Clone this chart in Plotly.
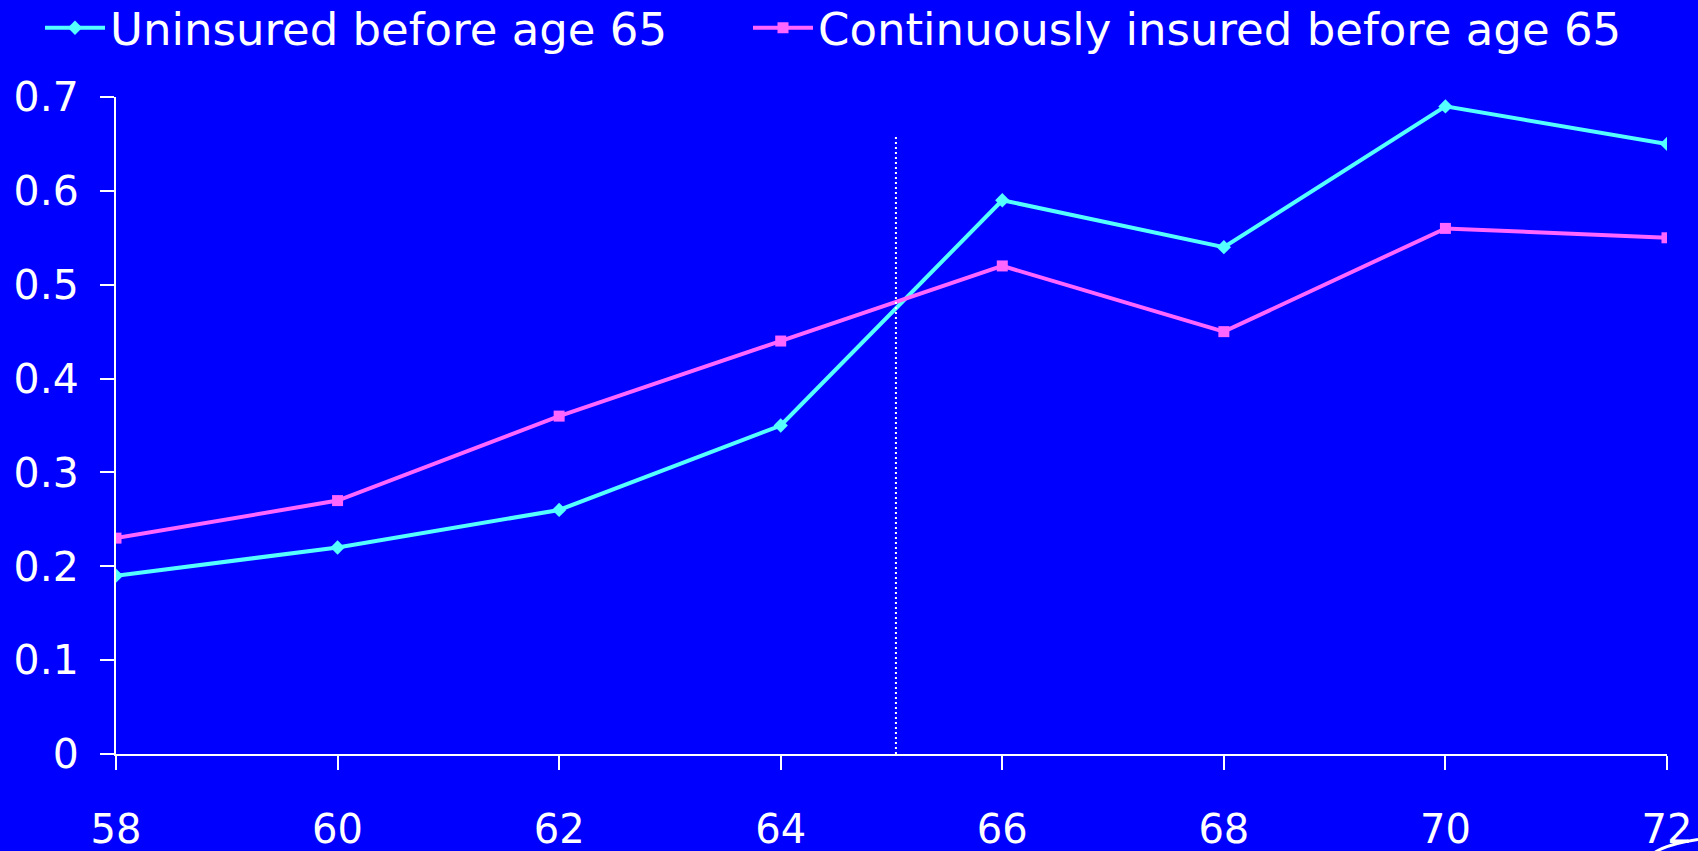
import plotly.graph_objects as go

# ages on the x axis
ages = [58, 60, 62, 64, 66, 68, 70, 72]

# share of respondents
uninsured = [0.19, 0.22, 0.26, 0.35, 0.59, 0.54, 0.69, 0.65]
insured = [0.23, 0.27, 0.36, 0.44, 0.52, 0.45, 0.56, 0.55]

# age 65 marker line
cutoff_age = 65.04
cutoff_top = 0.66

BG = '#0000FF'
CYAN = '#55FFFF'
PINK = '#FF66FF'
TICK_FONT = dict(family='DejaVu Sans', size=40, color='white')
LEG_FONT = dict(family='DejaVu Sans', size=45, color='white')

fig = go.Figure()

fig.add_trace(go.Scatter(x=ages, y=uninsured, name='Uninsured before age 65',
                         mode='lines+markers', legend='legend',
                         line=dict(color=CYAN, width=4),
                         marker=dict(symbol='diamond', size=11, color=CYAN)))

fig.add_trace(go.Scatter(x=ages, y=insured, name='Continuously insured before age 65',
                         mode='lines+markers', legend='legend2',
                         line=dict(color=PINK, width=4),
                         marker=dict(symbol='square', size=11, color=PINK)))

# dotted line at 65
fig.add_shape(type='line', x0=cutoff_age, x1=cutoff_age, y0=0, y1=cutoff_top,
              xref='x', yref='y',
              line=dict(color='white', width=2, dash='2px,3px'))

# stray white stroke in the bottom right corner of the slide
fig.add_shape(type='path', xref='paper', yref='paper', layer='above',
              path='M 0.992,-0.150 Q 1.0,-0.137 1.02,-0.130',
              line=dict(color='white', width=3))

leg_common = dict(orientation='h', xref='container', yref='container',
                  xanchor='left', yanchor='middle', y=1 - 28 / 851,
                  font=LEG_FONT, bgcolor='rgba(0,0,0,0)', itemwidth=60)

fig.update_layout(
    width=1698, height=851,
    paper_bgcolor=BG, plot_bgcolor=BG,
    margin=dict(l=116, r=31, t=97, b=97),
    showlegend=True,
    legend=dict(x=40 / 1698, **leg_common),
    legend2=dict(x=748 / 1698, **leg_common),
)

fig.update_xaxes(range=[58, 72], tickvals=ages, showgrid=False, zeroline=False,
                 showline=True, linecolor='white', linewidth=2,
                 ticks='outside', ticklen=14, tickwidth=2, tickcolor='white',
                 tickfont=TICK_FONT, ticklabelstandoff=25, automargin=False)

fig.update_yaxes(range=[0, 0.7], dtick=0.1, showgrid=False, zeroline=False,
                 showline=True, linecolor='white', linewidth=2,
                 ticks='outside', ticklen=14, tickwidth=2, tickcolor='white',
                 tickfont=dict(TICK_FONT, size=41), ticklabelstandoff=13,
                 tickformat='.1~f', automargin=False)

# drop the page margin so the figure sits flush in the window
fig.write_html("out.html", config={'displayModeBar': False},
               post_script="document.body.style.margin='0';")
